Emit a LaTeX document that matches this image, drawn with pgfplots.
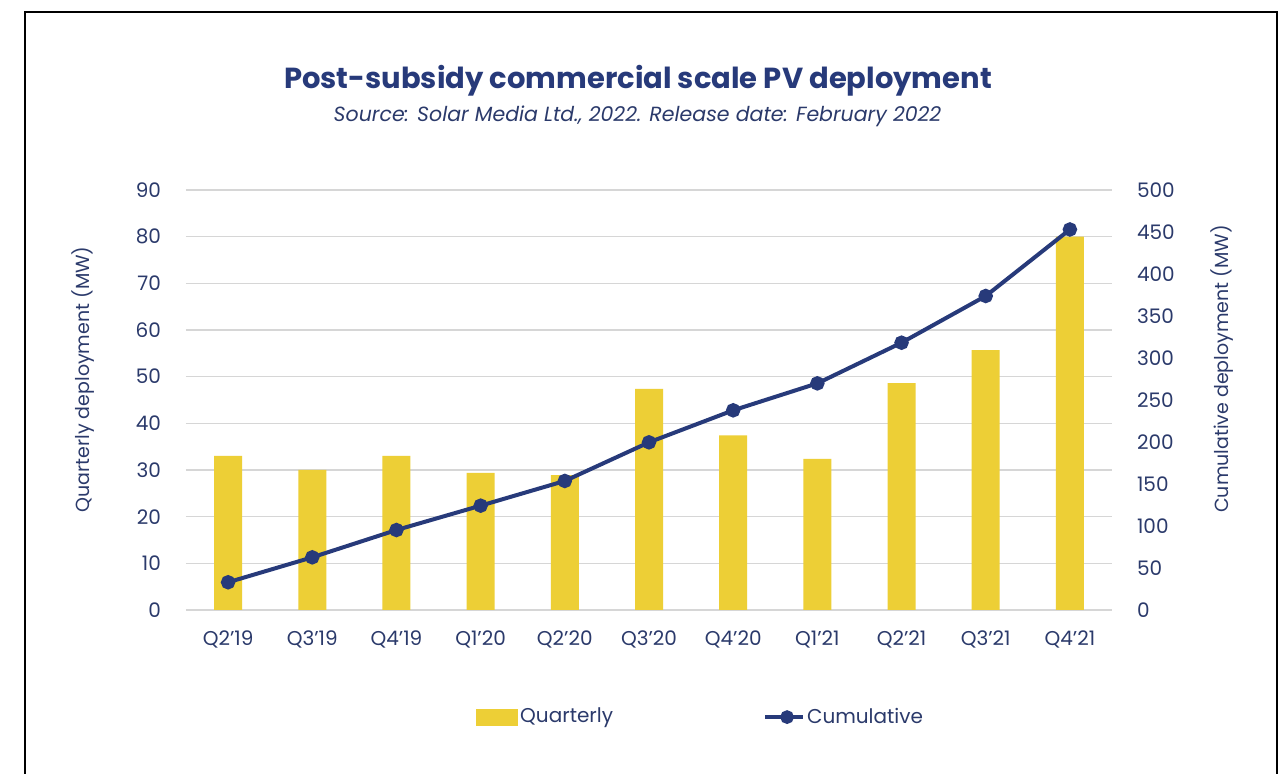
\documentclass[border=0pt]{standalone}
\usepackage{fontspec}
\setmainfont{Poppins}
\usepackage{pgfplots}
\pgfplotsset{compat=1.18}
\definecolor{baryellow}{HTML}{EDCF36}
\definecolor{navy}{HTML}{273A7A}
\definecolor{txt}{HTML}{2B3A6B}
\definecolor{gridgray}{HTML}{D6D6D6}

\pgfplotstableread{
x q
0 33.0
1 30.0
2 33.0
3 29.4
4 28.9
5 47.4
6 37.4
7 32.4
8 48.6
9 55.7
10 80.0
}\quarterly

\pgfplotstableread{
x c
0 33.0
1 62.7
2 95.2
3 124.2
4 153.6
5 199.6
6 237.7
7 269.8
8 318.2
9 373.8
10 453.0
}\cumulative

\pgfplotsset{
  common/.style={
    at={(93pt,82pt)}, anchor=south west, scale only axis,
    width=463pt, height=210pt,
    xmin=-0.5, xmax=10.5,
    axis line style={draw=none},
    major tick length=0pt,
    /pgf/number format/assume math mode=true,
    tick label style={text=txt, font=\fontsize{10}{12}\selectfont},
    label style={text=txt, font=\fontsize{9.5}{11}\selectfont},
  }
}

\begin{document}
\begin{tikzpicture}[x=1pt,y=1pt]
\fill[white] (0,0) rectangle (643.5,387);
\useasboundingbox (0,0) rectangle (643.5,387);
\draw[black, line width=1pt] (12.5,-2) -- (12.5,381) -- (638.3,381) -- (638.3,-2);
\node[font=\bfseries\fontsize{14.5}{16}\selectfont, text=navy] at (319,346.5) {Post-subsidy commercial scale PV deployment};
\node[font=\itshape\fontsize{10.25}{12}\selectfont, text=txt] at (318.75,329) {Source: Solar Media Ltd., 2022. Release date: February 2022};

\begin{axis}[common,
  ymin=0, ymax=90, ytick={0,10,...,90},
  xtick={0,...,10},
  xticklabels={Q2'19,Q3'19,Q4'19,Q1'20,Q2'20,Q3'20,Q4'20,Q1'21,Q2'21,Q3'21,Q4'21},
  xticklabel style={yshift=-7pt},
  yticklabel style={xshift=-9pt},
  ymajorgrids, grid style={gridgray, line width=0.8pt},
  ylabel={Quarterly deployment (MW)},
  ylabel style={at={(axis description cs:-0.1112,0.549)}, anchor=center, rotate=0},
]
\addplot[ybar, bar width=14pt, fill=baryellow, draw=none] table[x=x,y=q] {\quarterly};
\end{axis}

\begin{axis}[common,
  ymin=0, ymax=500, ytick={0,50,...,500},
  axis y line*=right, axis x line=none,
  yticklabel style={xshift=9pt},
  ylabel={Cumulative deployment (MW)},
  ylabel style={at={(axis description cs:1.1188,0.574)}, anchor=center, rotate=0},
  legend columns=2,
  legend cell align=left,
  legend style={draw=none, fill=none, at={(0.3132,-0.255)}, anchor=west, inner sep=0pt,
    font=\fontsize{10}{12}\selectfont, text=txt,
    nodes={inner sep=1pt},
    /tikz/every even column/.append style={column sep=74pt}},
]
\addlegendimage{legend image code/.code={\fill[baryellow] (0pt,-4pt) rectangle (20.5pt,4pt);}}
\addlegendentry{Quarterly}
\addplot[navy, line width=2pt, mark=*, mark size=2.6pt, mark options={fill=navy, draw=navy},
  legend image code/.code={\draw[navy, line width=2pt] (0pt,0pt) -- (19pt,0pt); \fill[navy] (11pt,0pt) circle (2.4pt);}]
  table[x=x,y=c] {\cumulative};
\addlegendentry{Cumulative}
\end{axis}
\end{tikzpicture}
\end{document}
